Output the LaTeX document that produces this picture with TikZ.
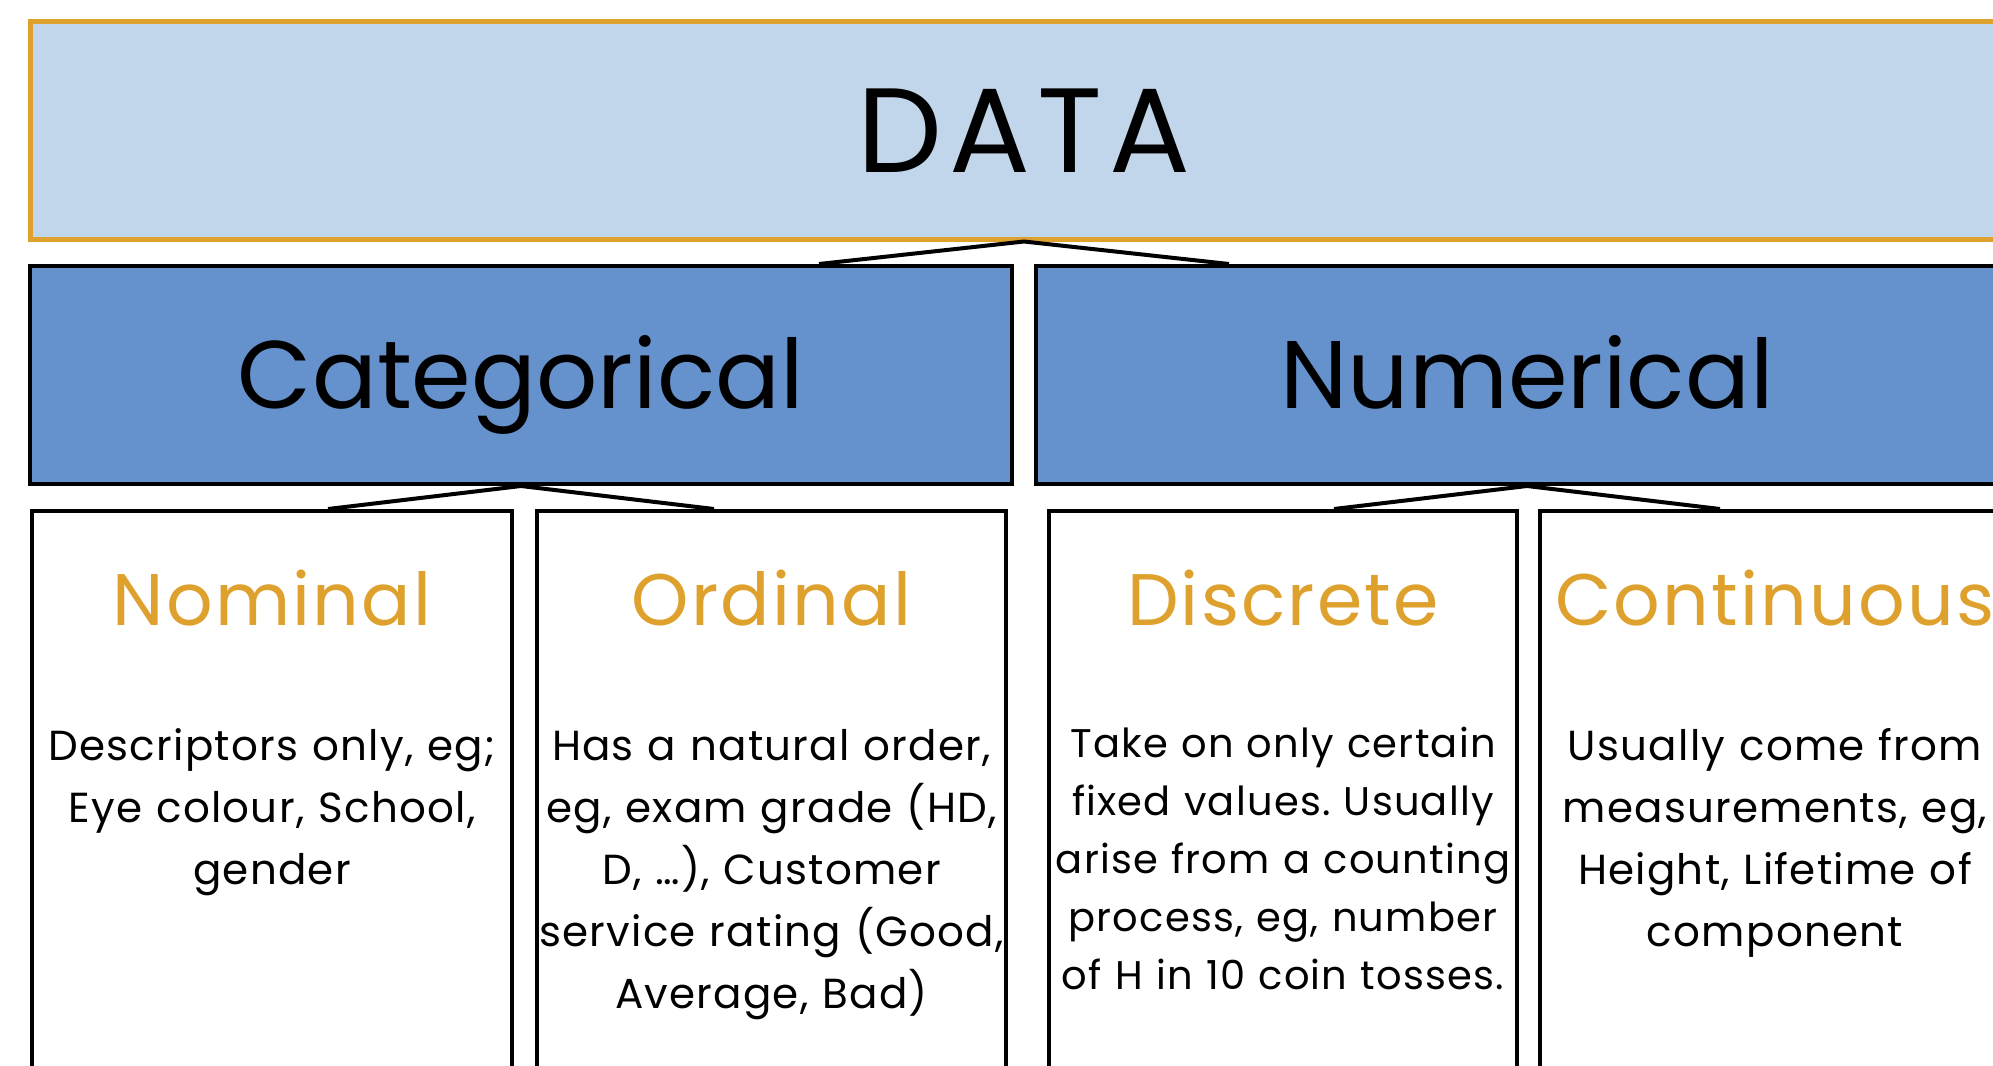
\documentclass[tikz,border=0pt]{standalone}
\usepackage{fontspec}
\setmainfont{Poppins}
\usetikzlibrary{calc}
\frenchspacing

\definecolor{datafill}{RGB}{193,213,235}
\definecolor{gold}{RGB}{222,161,45}
\definecolor{midblue}{RGB}{101,146,205}

\tikzset{
  topbox/.style={draw=gold, line width=2.5pt, fill=datafill, inner sep=0pt,
    minimum width=994pt, minimum height=109pt, text height=42pt, text depth=0pt,
    font=\fontsize{60}{62}\selectfont\addfontfeature{LetterSpace=6}},
  midbox/.style={draw=black, line width=2pt, fill=midblue, inner sep=0pt,
    minimum width=491pt, minimum height=109pt, text height=33.5pt, text depth=0pt,
    font=\fontsize{48}{50}\selectfont},
  leafbox/.style={draw=black, line width=2pt, fill=white, inner sep=0pt,
    minimum height=320pt, anchor=north west},
  heading/.style={text=gold, anchor=base, inner sep=0pt,
    font=\fontsize{36.5}{40}\selectfont\addfontfeature{LetterSpace=3}},
  body/.style={anchor=base, inner sep=0pt, text width=260pt, align=center,
    font=\fontsize{21}{31}\selectfont\addfontfeature{LetterSpace=3}},
  tent/.style={draw=black, line width=2pt, line join=round}
}

\begin{document}
\begin{tikzpicture}[x=0.5pt,y=0.5pt,yscale=-1,xscale=1]
\clip (0,0) rectangle (1993,1066);
\fill[white] (0,0) rectangle (1993,1066);

%Shape: Rectangle
\node[topbox] (data) at (1024,130) {DATA};
\node[midbox] (cat) at (521,375) {Categorical};
\node[midbox] (num) at (1527,375) {Numerical};

%Shape: Rectangle
\node[leafbox, minimum width=240pt] (nom) at (30,509) {};
\node[leafbox, minimum width=234.5pt] (ord) at (535,509) {};
\node[leafbox, minimum width=234pt] (dis) at (1047,509) {};
\node[leafbox, minimum width=235pt] (con) at (1538,509) {};

%Straight Lines
\foreach \p/\c/\w in {data/cat/205, cat/nom/193, num/dis/193} {
  \coordinate (\p-l) at ($(\p.south)+(-\w,0)$);
  \coordinate (\p-r) at ($(\p.south)+(\w,0)$);
  \draw[tent] (\p-l |- \c.north) -- (\p.south) -- (\p-r |- \c.north);
}

% Text Node
\node[heading] (nom-h) at (nom.north |- 0,625) {Nominal};
\node[heading] (ord-h) at (ord.north |- 0,625) {Ordinal};
\node[heading] (dis-h) at (dis.north |- 0,625) {Discrete};
\node[heading] (con-h) at (con.north |- 0,625) {Continuous};

% Text Node
\node[body] (nom-t) at (nom.north |- 0,760) {Descriptors only, eg;\\Eye colour, School,\\gender};
\node[body] (ord-t) at (ord.north |- 0,760) {Has a natural order,\\eg, exam grade (HD,\\D, \ldots), Customer\\service rating (Good,\\Average, Bad)};
\node[body, font=\fontsize{20}{29}\selectfont\addfontfeature{LetterSpace=3}] (dis-t) at (dis.north |- 0,757) {Take on only certain\\fixed values. Usually\\arise from a counting\\process, eg, number\\of H in 10 coin tosses.};
\node[body] (con-t) at (con.north |- 0,760) {Usually come from\\measurements, eg,\\Height, Lifetime of\\component};

\end{tikzpicture}
\end{document}
